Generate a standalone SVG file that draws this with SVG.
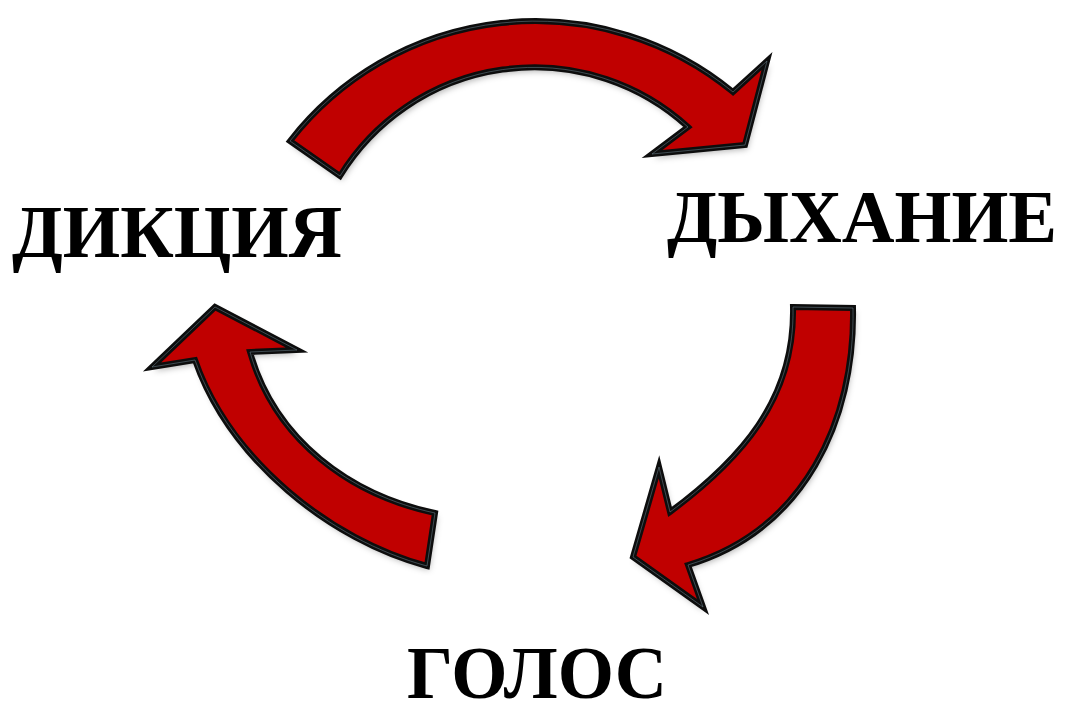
<svg xmlns="http://www.w3.org/2000/svg" xmlns:xlink="http://www.w3.org/1999/xlink" width="1066" height="707" viewBox="0 0 1066 707">
  <defs>
    <filter id="shadow" x="-10%" y="-10%" width="120%" height="130%">
      <feDropShadow dx="2" dy="4" stdDeviation="3" flood-color="#000" flood-opacity="0.3"/>
    </filter>
    <path id="p-top" d="M 290 141 A 311 311 0 0 1 733 92 L 767 61 L 745 145 L 652 154 L 688 127 A 228 228 0 0 0 340 176 Z"/>
    <path id="p-right" d="M 793 307 L 853 308 C 855 420 805 530 688 565 L 703 607 L 633 557 L 659 467 L 670 512 C 740 460 795 400 793 307 Z"/>
    <path id="p-left" d="M 435 513 L 427 566 C 330 540 230 460 195 360 L 152 367 L 215 307 L 297 350 L 250 352 C 275 440 350 495 435 513 Z"/>
  </defs>
  <style>
    .fill { fill: #c00000; }
    .edge { fill: none; stroke: #0d0d0d; stroke-width: 6; stroke-linejoin: miter; stroke-miterlimit: 10; }
    .glint { fill: none; stroke: #7d96a3; stroke-width: 1; opacity: 0.45; stroke-linejoin: miter; stroke-miterlimit: 10; }
    .label { font-family: "Liberation Serif", "Times New Roman", serif; font-weight: bold; font-size: 75px; fill: #000; }
  </style>
  <rect width="1066" height="707" fill="#fff"/>

  <g id="connectors">
    <g id="arrow-top">
      <use xlink:href="#p-top" class="fill" filter="url(#shadow)"/>
      <use xlink:href="#p-top" class="edge"/>
      <use xlink:href="#p-top" class="glint"/>
    </g>
    <g id="arrow-right">
      <use xlink:href="#p-right" class="fill" filter="url(#shadow)"/>
      <use xlink:href="#p-right" class="edge"/>
      <use xlink:href="#p-right" class="glint"/>
    </g>
    <g id="arrow-left">
      <use xlink:href="#p-left" class="fill" filter="url(#shadow)"/>
      <use xlink:href="#p-left" class="edge"/>
      <use xlink:href="#p-left" class="glint"/>
    </g>
  </g>

  <g id="node-dikciya">
    <text class="label" x="12" y="257" textLength="330" lengthAdjust="spacingAndGlyphs">ДИКЦИЯ</text>
  </g>
  <g id="node-dyhanie">
    <text class="label" x="667" y="242" textLength="390" lengthAdjust="spacingAndGlyphs">ДЫХАНИЕ</text>
  </g>
  <g id="node-golos">
    <text class="label" x="407" y="698" textLength="260" lengthAdjust="spacingAndGlyphs">ГОЛОС</text>
  </g>
</svg>
